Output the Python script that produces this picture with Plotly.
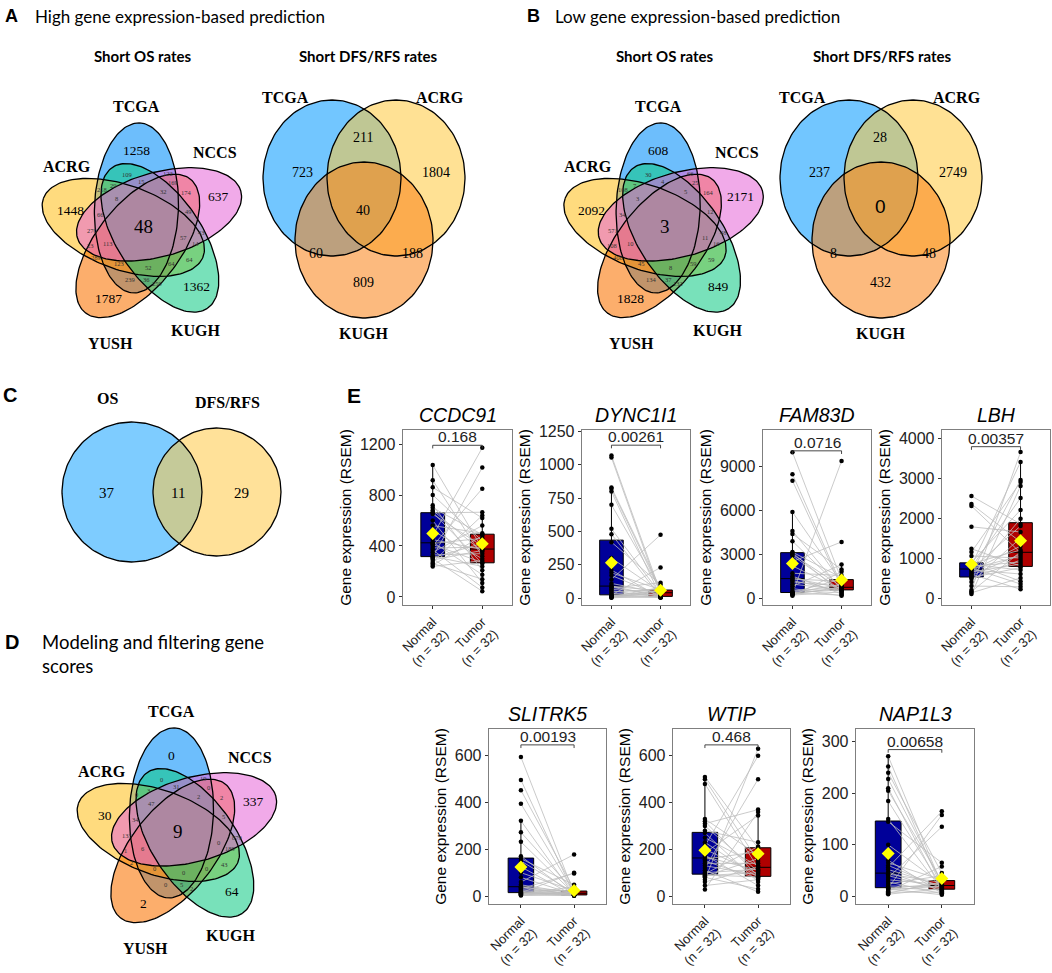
import numpy as np
import plotly.graph_objects as go

W, H = 1052, 973

# ---------------- DATA ----------------
# five-set Venn counts, set order: TCGA, ACRG, YUSH, KUGH, NCCS
SETS5 = ["TCGA", "ACRG", "YUSH", "KUGH", "NCCS"]
A_OS_UNIQUE = [1258, 1448, 1787, 1362, 637]
A_OS_ALL = 48
A_OS_SHARED = [109, 122, 218, 29, 15, 169, 32, 174, 8, 66, 49, 270, 113, 57, 43,
               14, 23, 289, 123, 52, 64, 64, 239, 36, 259]
B_OS_UNIQUE = [608, 2092, 1828, 849, 2171]
B_OS_ALL = 3
B_OS_SHARED = [30, 66, 108, 7, 4, 25, 5, 164, 3, 34, 12, 571, 10, 11, 48,
               16, 108, 408, 45, 8, 59, 59, 134, 37, 132]
D_UNIQUE = [0, 30, 2, 64, 337]
D_ALL = 9
D_SHARED = [0, 19, 0, 3, 31, 0, 2, 2, 47, 34, 5, 133, 6, 0, 879,
            189, 1, 2, 0, 0, 0, 43, 0, 5, 2]

# three-set Venn: TCGA only, ACRG only, KUGH only, T&A, T&K, A&K, all
SETS3 = ["TCGA", "ACRG", "KUGH"]
A_DFS = [723, 1804, 809, 211, 60, 188, 40]
B_DFS = [237, 2749, 432, 28, 8, 48, 0]

# two-set Venn: OS only, both, DFS/RFS only
SETS2 = ["OS", "DFS/RFS"]
C_COUNTS = [37, 11, 29]

# box plot data (RSEM), 32 paired samples
GENES = ["CCDC91", "DYNC1I1", "FAM83D", "LBH", "SLITRK5", "WTIP", "NAP1L3"]
P_VALUES = ["0.168", "0.00261", "0.0716", "0.00357", "0.00193", "0.468", "0.00658"]
GROUPS = ["Normal<br>(n = 32)", "Tumor<br>(n = 32)"]

CCDC91_NORMAL = [240, 250, 262, 275, 290, 300, 308, 313, 318, 330, 350, 370, 385, 400, 412, 420,
                 430, 450, 480, 520, 560, 600, 650, 660, 665, 680, 700, 720, 800, 860, 915, 1035]
CCDC91_TUMOR = [45, 75, 110, 140, 175, 210, 240, 262, 270, 285, 300, 320, 340, 355, 365, 372,
                380, 390, 400, 420, 440, 460, 480, 490, 500, 560, 620, 640, 665, 850, 1015, 1170]
DYNC1I1_NORMAL = [2, 5, 8, 10, 12, 15, 18, 22, 25, 35, 45, 55, 65, 75, 82, 88,
                  92, 110, 140, 170, 190, 210, 300, 420, 480, 520, 700, 800, 820, 830, 1055, 1070]
DYNC1I1_TUMOR = [3, 5, 6, 8, 9, 10, 11, 12, 13, 15, 18, 20, 25, 30, 35, 38,
                 42, 45, 48, 50, 52, 55, 58, 60, 62, 65, 70, 80, 100, 115, 230, 475]
FAM83D_NORMAL = [150, 200, 250, 300, 330, 350, 360, 365, 380, 500, 650, 800, 950, 1100, 1200, 1300,
                 1360, 1500, 1700, 2200, 2500, 2900, 3000, 3100, 3150, 3900, 4400, 4600, 5900, 8050, 8500, 10000]
FAM83D_TUMOR = [150, 200, 280, 350, 420, 480, 520, 545, 560, 580, 600, 630, 660, 690, 710, 725,
                745, 780, 820, 880, 950, 1050, 1150, 1250, 1300, 1400, 1550, 1800, 1950, 2300, 3850, 9400]
LBH_NORMAL = [100, 130, 160, 200, 300, 400, 480, 510, 530, 560, 590, 620, 650, 680, 700, 715,
              735, 750, 770, 790, 810, 840, 860, 875, 890, 1050, 1150, 1230, 1780, 2300, 2350, 2550]
LBH_TUMOR = [220, 280, 350, 420, 500, 600, 700, 760, 800, 850, 900, 950, 1000, 1050, 1100, 1130,
             1155, 1200, 1300, 1400, 1500, 1650, 1800, 1850, 1980, 2200, 2500, 2800, 2900, 2950, 3400, 3650]
SLITRK5_NORMAL = [2, 4, 6, 8, 10, 12, 13, 14, 15, 17, 20, 24, 28, 32, 36, 38,
                  42, 48, 60, 80, 100, 125, 150, 160, 170, 232, 273, 322, 395, 453, 497, 595]
SLITRK5_TUMOR = [1, 2, 2, 3, 3, 4, 4, 4, 5, 6, 7, 8, 9, 10, 11, 12,
                 12, 13, 14, 15, 16, 18, 20, 21, 23, 25, 30, 40, 48, 97, 100, 178]
WTIP_NORMAL = [28, 45, 60, 70, 80, 85, 88, 90, 95, 100, 110, 120, 130, 140, 150, 158,
               168, 175, 185, 200, 215, 230, 250, 270, 280, 300, 310, 320, 330, 480, 500, 510]
WTIP_TUMOR = [18, 30, 45, 60, 70, 75, 80, 82, 85, 90, 95, 100, 105, 110, 115, 120,
              126, 130, 140, 150, 160, 175, 190, 205, 212, 230, 345, 360, 370, 500, 600, 630]
NAP1L3_NORMAL = [4, 6, 8, 10, 12, 14, 15, 16, 17, 20, 24, 28, 32, 36, 40, 43,
                 47, 52, 56, 60, 65, 70, 100, 145, 150, 185, 205, 210, 228, 240, 252, 272]
NAP1L3_TUMOR = [3, 5, 6, 8, 10, 11, 12, 13, 14, 15, 16, 17, 18, 19, 20, 20,
                22, 23, 24, 25, 26, 27, 28, 30, 32, 40, 45, 58, 65, 135, 158, 165]

# which tumor sample (index into the tumor list) belongs to each normal sample
PAIR_A = [9, 22, 3, 27, 14, 0, 19, 30, 6, 12, 25, 1, 17, 29, 8, 21,
          4, 15, 31, 10, 24, 2, 18, 28, 7, 13, 23, 5, 20, 26, 11, 16]
PAIR_B = [27, 4, 16, 31, 1, 20, 11, 7, 24, 14, 0, 29, 9, 18, 5, 22,
          13, 2, 26, 10, 30, 6, 17, 3, 25, 12, 28, 8, 21, 15, 19, 23]

Y_TICKS = [[0, 400, 800, 1200], [0, 250, 500, 750, 1000, 1250], [0, 3000, 6000, 9000],
           [0, 1000, 2000, 3000, 4000], [0, 200, 400, 600], [0, 200, 400, 600], [0, 100, 200, 300]]

NORMALS = [CCDC91_NORMAL, DYNC1I1_NORMAL, FAM83D_NORMAL, LBH_NORMAL, SLITRK5_NORMAL, WTIP_NORMAL, NAP1L3_NORMAL]
TUMORS = [CCDC91_TUMOR, DYNC1I1_TUMOR, FAM83D_TUMOR, LBH_TUMOR, SLITRK5_TUMOR, WTIP_TUMOR, NAP1L3_TUMOR]
PAIRS = [PAIR_A, PAIR_A, PAIR_B, PAIR_B, PAIR_A, PAIR_B, PAIR_A]

# ---------------- LAYOUT (pixels) ----------------
BOX_PANELS = [(403, 512, 430, 605), (582, 690, 430, 605), (763, 871, 430, 605), (942, 1050, 430, 605),
              (489, 606, 729, 904), (673, 790, 729, 904), (856, 974, 729, 904)]
Y_RANGES = [(-63, 1310), (-52, 1262), (-480, 11530), (-175, 4200), (-34, 715), (-34, 715), (-15, 325)]
BRACKET_Y = [1190, 1148, 10100, 3783, 647, 647, 285]

V5_CENTERS = [(143.3, 226.7), (665.0, 226.7), (178.3, 831.7)]
V5_UNIQUE_POS = [(-6.6, -76.7), (-73.3, -16.7), (-35, 71.6), (53.4, 60), (75, -30)]
V5_SHARED_POS = [(-16.6, -52.4), (25, -53.4), (-41.6, -37.4), (-30, -41.7), (-1.6, -45),
                 (30, -44), (20, -35), (43.4, -34), (-27.3, -28.4), (-42.6, -12.4),
                 (45, -15), (-51.6, 3.3), (-35, 16.6), (40, 10.6), (58.4, 6),
                 (51.7, 16.3), (-53.3, 18.3), (-47.3, 30.3), (-24, 36.6), (5, 40.6),
                 (28.4, 36.6), (46, 32.3), (-13.3, 52.6), (3.4, 52.6), (13.4, 56.6)]
V5_LABEL_POS = [(-7, -120), (-76.6, -60.5), (-33.3, 116.6), (52.5, 104), (71.7, -74)]
V5_COLORS = ["rgba(20,150,250,0.62)", "rgba(255,195,40,0.6)", "rgba(250,120,10,0.6)",
             "rgba(10,200,130,0.55)", "rgba(230,100,215,0.55)"]
E5_DIST, E5_A, E5_B, E5_ALPHA0, E5_TILT = 20, 42, 85, 110, -22

V3_OFFSETS = [0, 517]
V3_CENTERS = [(332, 178), (396, 178), (364, 240)]
V3_RX, V3_RY = 69, 78
V3_NUM_POS = [(302, 172), (436, 172), (363, 282), (363, 137), (316, 253), (412, 253), (363, 210)]
V3_LABEL_POS = [(285, 97), (440, 97), (363, 333)]
V3_COLORS = ["rgba(20,160,255,0.6)", "rgba(255,200,60,0.55)", "rgba(250,130,20,0.55)"]

V2_CIRCLES = [(132, 492, 70), (217, 492, 64)]
V2_NUM_POS = [(107, 493), (178, 493), (241, 493)]
V2_LABEL_POS = [(107, 398), (227, 402)]
V2_COLORS = ["rgba(40,170,255,0.6)", "rgba(255,200,70,0.55)"]

SERIF = "Liberation Serif"
SANS = "Liberation Sans"
TITLE_FONT = "Lato"

fig = go.Figure()
annotations = []
OV = dict(xref="x8", yref="y8")


def ellipse(cx, cy, a, b, phi_deg, n=160):
    t = np.linspace(0, 2 * np.pi, n)
    ph = np.radians(phi_deg)
    ux, uy = np.cos(ph), -np.sin(ph)
    vx, vy = np.sin(ph), np.cos(ph)
    xs = cx + b * np.cos(t) * ux + a * np.sin(t) * vx
    ys = cy + b * np.cos(t) * uy + a * np.sin(t) * vy
    return xs, ys


def add_shapes(shapes, colors):
    for (xs, ys), col in zip(shapes, colors):
        fig.add_trace(go.Scatter(x=xs, y=ys, mode="lines", fill="toself", fillcolor=col,
                                 line=dict(width=0), xaxis="x8", yaxis="y8", hoverinfo="skip"))
    for xs, ys in shapes:
        fig.add_trace(go.Scatter(x=xs, y=ys, mode="lines", line=dict(color="black", width=1.3),
                                 xaxis="x8", yaxis="y8", hoverinfo="skip"))


def text(x, y, s, size, family=SERIF, color="black", **kw):
    annotations.append(dict(x=x, y=y, text=s, showarrow=False, font=dict(size=size, family=family, color=color),
                            **OV, **kw))


# ---------- five-set Venns ----------
for (cx, cy), uniq, allv, shared in zip(V5_CENTERS, [A_OS_UNIQUE, B_OS_UNIQUE, D_UNIQUE],
                                         [A_OS_ALL, B_OS_ALL, D_ALL], [A_OS_SHARED, B_OS_SHARED, D_SHARED]):
    shapes = []
    for k in range(5):
        al = np.radians(E5_ALPHA0 + 72 * k)
        ex, ey = cx + E5_DIST * np.cos(al), cy - E5_DIST * np.sin(al)
        shapes.append(ellipse(ex, ey, E5_A, E5_B, E5_ALPHA0 + 72 * k + E5_TILT))
    add_shapes(shapes, V5_COLORS)
    for (dx, dy), v in zip(V5_UNIQUE_POS, uniq):
        text(cx + dx, cy + dy, str(v), 13.5)
    for (dx, dy), v in zip(V5_SHARED_POS, shared):
        text(cx + dx, cy + dy, str(v), 6.5, color="#333")
    text(cx, cy, str(allv), 19)
    for (dx, dy), name in zip(V5_LABEL_POS, SETS5):
        text(cx + dx, cy + dy, "<b>%s</b>" % name, 16)

# ---------- three-set Venns ----------
for off, counts in zip(V3_OFFSETS, [A_DFS, B_DFS]):
    shapes = [ellipse(x + off, y, V3_RX, V3_RY, 90) for x, y in V3_CENTERS]
    add_shapes(shapes, V3_COLORS)
    for (x, y), v in zip(V3_NUM_POS, counts):
        if (x, y) == V3_NUM_POS[-1] and off > 0:
            text(x + off, y - 4, str(v), 19, family=SANS)
        else:
            text(x + off, y, str(v), 14)
    for (x, y), name in zip(V3_LABEL_POS, SETS3):
        text(x + off, y, "<b>%s</b>" % name, 16)

# ---------- two-set Venn ----------
shapes = [ellipse(x, y, r, r, 0) for x, y, r in V2_CIRCLES]
add_shapes(shapes, V2_COLORS)
for (x, y), v in zip(V2_NUM_POS, C_COUNTS):
    text(x, y, str(v), 15)
for (x, y), name in zip(V2_LABEL_POS, SETS2):
    text(x, y, "<b>%s</b>" % name, 16)

# ---------- headings ----------
text(11, 16, "<b>A</b>", 18, family=SANS)
text(33, 16, "High gene expression-based prediction", 17, family=TITLE_FONT, xanchor="left")
text(533, 16, "<b>B</b>", 18, family=SANS)
text(553, 16, "Low gene expression-based prediction", 17, family=TITLE_FONT, xanchor="left")
for x, s in [(143, "Short OS rates"), (368, "Short DFS/RFS rates"), (665, "Short OS rates"),
             (882, "Short DFS/RFS rates")]:
    text(x, 56, "<b>%s</b>" % s, 15, family=TITLE_FONT)
text(10, 395, "<b>C</b>", 20, family=SANS)
text(12, 642, "<b>D</b>", 20, family=SANS)
text(40, 654, "Modeling and filtering gene<br>scores", 18.5, family=TITLE_FONT, xanchor="left", align="left")
text(354, 395, "<b>E</b>", 21, family=SANS)

# ---------- box plots ----------
layout_axes = {}
for i, gene in enumerate(GENES):
    xa = "x" if i == 0 else "x%d" % (i + 1)
    ya = "y" if i == 0 else "y%d" % (i + 1)
    left, right, top, bottom = BOX_PANELS[i]
    normal = np.asarray(NORMALS[i], float)
    tumor_sorted = np.asarray(TUMORS[i], float)
    tumor = tumor_sorted[PAIRS[i]]
    for xpos, vals, col in [(0, normal, "#000099"), (1, tumor, "#B00000")]:
        q1, med, q3 = np.percentile(vals, [25, 50, 75])
        iqr = q3 - q1
        lo = vals[vals >= q1 - 1.5 * iqr].min()
        hi = vals[vals <= q3 + 1.5 * iqr].max()
        fig.add_trace(go.Box(x=[xpos], q1=[q1], median=[med], q3=[q3], lowerfence=[lo], upperfence=[hi],
                             width=0.48, fillcolor=col, line=dict(color="black", width=1), whiskerwidth=0,
                             boxpoints=False, xaxis=xa, yaxis=ya, hoverinfo="skip"))
    lx, ly = [], []
    for n_v, t_v in zip(normal, tumor):
        lx += [0, 1, None]
        ly += [n_v, t_v, None]
    fig.add_trace(go.Scatter(x=lx, y=ly, mode="lines", line=dict(color="#BDBDBD", width=0.8),
                             xaxis=xa, yaxis=ya, hoverinfo="skip"))
    fig.add_trace(go.Scatter(x=[0] * len(normal) + [1] * len(tumor), y=list(normal) + list(tumor),
                             mode="markers", marker=dict(color="black", size=4.5),
                             xaxis=xa, yaxis=ya, hoverinfo="skip"))
    fig.add_trace(go.Scatter(x=[0, 1], y=[normal.mean(), tumor.mean()], mode="markers",
                             marker=dict(color="#FFFF00", size=10, symbol="diamond"),
                             xaxis=xa, yaxis=ya, hoverinfo="skip"))
    yr = Y_RANGES[i]
    h = BRACKET_Y[i]
    dt = 0.018 * (yr[1] - yr[0])
    fig.add_trace(go.Scatter(x=[0, 0, 1, 1], y=[h - dt, h, h, h - dt], mode="lines",
                             line=dict(color="#333", width=0.9), xaxis=xa, yaxis=ya, hoverinfo="skip"))
    annotations.append(dict(x=0.5, y=h, xref=xa, yref=ya, text=P_VALUES[i], showarrow=False,
                            yanchor="bottom", yshift=-2, font=dict(size=15.5, family=SANS, color="#222")))
    annotations.append(dict(x=(left + right) / 2, y=top - 15, text="<i>%s</i>" % gene, showarrow=False,
                            font=dict(size=19.5, family=SANS, color="black"), **OV))
    axis_common = dict(showline=True, mirror=True, linecolor="#7F7F7F", linewidth=1.3, showgrid=False,
                       zeroline=False, ticks="outside", ticklen=3, tickcolor="#333")
    layout_axes["xaxis" if i == 0 else "xaxis%d" % (i + 1)] = dict(
        domain=[left / W, right / W], anchor=ya, range=[-0.6, 1.6], tickvals=[0, 1], ticktext=GROUPS,
        tickangle=-45, tickfont=dict(size=13, family=SANS, color="#222"), **axis_common)
    layout_axes["yaxis" if i == 0 else "yaxis%d" % (i + 1)] = dict(
        domain=[1 - bottom / H, 1 - top / H], anchor=xa, range=list(yr), tickvals=Y_TICKS[i],
        tickfont=dict(size=16, family=SANS, color="#222"),
        title=dict(text="Gene expression (RSEM)", font=dict(size=15.5, family=SANS, color="black"), standoff=4),
        **axis_common)

layout_axes["xaxis8"] = dict(domain=[0, 1], range=[0, W], visible=False, anchor="y8", fixedrange=True)
layout_axes["yaxis8"] = dict(domain=[0, 1], range=[H, 0], visible=False, anchor="x8", fixedrange=True)

fig.update_layout(width=W, height=H, margin=dict(l=0, r=0, t=0, b=0, autoexpand=False), showlegend=False,
                  paper_bgcolor="white", plot_bgcolor="rgba(0,0,0,0)", annotations=annotations,
                  **layout_axes)

fig.write_html("out.html", config={"displayModeBar": False, "staticPlot": True},
               post_script="document.body.style.margin='0px';document.body.style.overflow='hidden';")
